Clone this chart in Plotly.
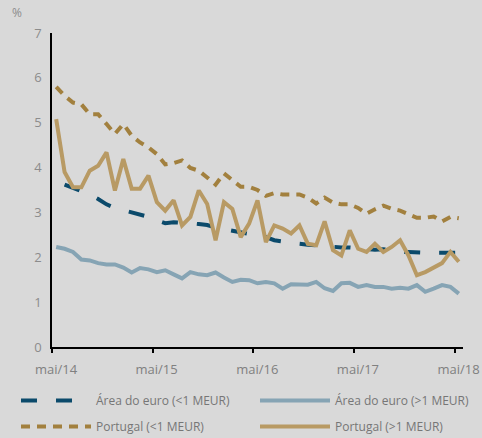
import plotly.graph_objects as go

month_names = ["jan", "fev", "mar", "abr", "mai", "jun", "jul", "ago", "set", "out", "nov", "dez"]
categories = []
for k in range(49):
    m = (4 + k) % 12  # start May 2014
    y = 14 + (4 + k) // 12
    categories.append(f"{month_names[m]}/{y}")

tick_labels = ["mai/14", "mai/15", "mai/16", "mai/17", "mai/18"]

euro_small = [None, 3.62, 3.55, 3.48, 3.40, 3.30, 3.18, 3.10, 3.05, 3.00, 2.95, 2.90,
              2.82, 2.76, 2.78, 2.78, 2.76, 2.74, 2.72, 2.66, 2.62, 2.58, 2.55, 2.52,
              2.49, 2.45, 2.38, 2.35, 2.31, 2.30, 2.28, 2.26, 2.25, 2.24, 2.22, 2.22,
              2.20, 2.17, 2.17, 2.18, 2.15, 2.12, 2.12, 2.10, 2.10, 2.10, 2.10, 2.10, 2.10]

euro_large = [2.23, 2.19, 2.12, 1.95, 1.93, 1.87, 1.84, 1.84, 1.77, 1.66, 1.76, 1.73,
              1.67, 1.71, 1.62, 1.53, 1.67, 1.62, 1.60, 1.66, 1.55, 1.45, 1.50, 1.49,
              1.42, 1.45, 1.42, 1.30, 1.40, 1.39, 1.39, 1.45, 1.31, 1.25, 1.42, 1.43,
              1.34, 1.38, 1.34, 1.34, 1.30, 1.32, 1.30, 1.38, 1.23, 1.30, 1.38, 1.34, 1.19]

pt_small = [5.80, 5.60, 5.45, 5.41, 5.19, 5.19, 4.97, 4.75, 4.97, 4.71, 4.56, 4.45,
            4.30, 4.07, 4.10, 4.16, 3.99, 3.93, 3.78, 3.62, 3.87, 3.72, 3.57, 3.57,
            3.50, 3.37, 3.43, 3.40, 3.40, 3.40, 3.33, 3.20, 3.33, 3.22, 3.18, 3.18,
            3.10, 2.97, 3.07, 3.15, 3.08, 3.04, 2.96, 2.88, 2.88, 2.91, 2.80, 2.90, 2.87]

pt_large = [5.08, 3.90, 3.56, 3.56, 3.93, 4.04, 4.34, 3.49, 4.19, 3.53, 3.53, 3.82,
            3.23, 3.04, 3.27, 2.71, 2.90, 3.49, 3.19, 2.38, 3.23, 3.08, 2.45, 2.75,
            3.27, 2.34, 2.71, 2.64, 2.53, 2.71, 2.30, 2.27, 2.80, 2.16, 2.04, 2.60,
            2.19, 2.12, 2.30, 2.12, 2.23, 2.38, 2.04, 1.60, 1.67, 1.78, 1.87, 2.12, 1.90]

x = list(range(len(categories)))

C_EURO_S = "#0b4a6b"
C_EURO_L = "#86a4b4"
C_PT_S = "#a2803e"
C_PT_L = "#b89a64"

fig = go.Figure()
fig.add_trace(go.Scatter(x=x, y=euro_small, mode="lines", name="Área do euro (<1 MEUR)",
                         line=dict(color=C_EURO_S, width=4, dash="16px,19px"), connectgaps=False,
                         text=categories, hoverinfo="text+y", legend="legend"))
fig.add_trace(go.Scatter(x=x, y=euro_large, mode="lines", name="Área do euro (>1 MEUR)",
                         line=dict(color=C_EURO_L, width=4), text=categories, hoverinfo="text+y",
                         legend="legend2"))
fig.add_trace(go.Scatter(x=x, y=pt_small, mode="lines", name="Portugal (<1 MEUR)",
                         line=dict(color=C_PT_S, width=4, dash="9px,7px"), text=categories, hoverinfo="text+y",
                         legend="legend3"))
fig.add_trace(go.Scatter(x=x, y=pt_large, mode="lines", name="Portugal (>1 MEUR)",
                         line=dict(color=C_PT_L, width=4), text=categories, hoverinfo="text+y",
                         legend="legend4"))

font_family = "Open Sans, Noto Sans, sans-serif"
W, H = 482, 438


def leg(xpx, ypx):
    return dict(orientation="v", xref="container", yref="container",
                x=xpx / W, xanchor="left", y=1 - ypx / H, yanchor="top",
                itemwidth=70, font=dict(size=12, color="#767676"),
                bgcolor="rgba(0,0,0,0)", itemclick=False, itemdoubleclick=False)


fig.update_layout(
    width=W, height=H,
    paper_bgcolor="#d9d9d9", plot_bgcolor="#d9d9d9",
    margin=dict(l=52, r=19, t=33, b=91, autoexpand=False),
    font=dict(family=font_family, color="#808080", size=12),
    showlegend=True,
    legend=leg(16, 386),
    legend2=leg(255, 386),
    legend3=leg(16, 412),
    legend4=leg(255, 412),
    xaxis=dict(range=[-0.5, 48.5], tickmode="array",
               tickvals=[-0.5, 11.5, 23.5, 35.5, 47.5], ticktext=tick_labels,
               ticklabelshift=4, ticklabelstandoff=6, automargin=False,
               showline=True, linecolor="#000000", linewidth=1.5,
               ticks="outside", ticklen=4, tickcolor="#000000", tickwidth=1.5,
               showgrid=False, zeroline=False, tickfont=dict(size=13, color="#808080")),
    yaxis=dict(range=[0, 7], tickmode="array", tickvals=[0, 1, 2, 3, 4, 5, 6, 7],
               showline=True, linecolor="#000000", linewidth=1.5, ticks="",
               automargin=False,
               showgrid=False, zeroline=False, tickfont=dict(size=13, color="#8c8c8c"),
               ticklabelstandoff=6),
    annotations=[dict(text="%", xref="paper", yref="paper", x=-0.085, y=1.064,
                      showarrow=False, font=dict(size=12, color="#8c8c8c"),
                      xanchor="center", yanchor="middle")],
)

fig.write_html("out.html", config={"displayModeBar": False},
               post_script="document.body.style.margin='0';document.body.style.padding='0';")
